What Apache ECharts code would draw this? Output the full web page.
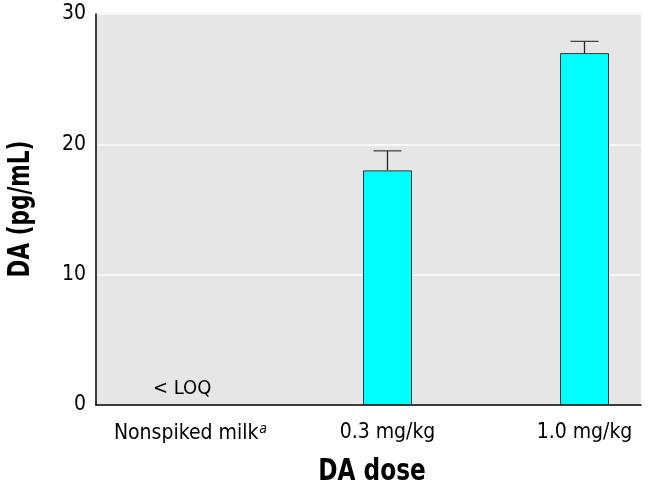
<!DOCTYPE html>
<html>
<head>
<meta charset="utf-8">
<script src="https://cdn.jsdelivr.net/npm/echarts@6/dist/echarts.min.js"></script>
<style>html,body{margin:0;padding:0;background:#fff}#c{width:649px;height:491px}</style>
</head>
<body>
<div id="c"></div>
<script>
var categories = ['Nonspiked milk', '0.3 mg/kg', '1.0 mg/kg'];
var means = [null, 18, 27];
var errHigh = [null, 19.5, 27.9];
var yTicks = [0, 10, 20, 30];
var loqText = '< LOQ';

var FONT = '"Liberation Sans Narrow", "DejaVu Sans Condensed", "Arial Narrow", sans-serif';
var chart = echarts.init(document.getElementById('c'), null, {renderer: 'canvas'});

var errData = categories.map(function (c, i) {
  return means[i] == null ? null : [i, means[i], errHigh[i]];
}).filter(function (d) { return d; });

chart.setOption({
  backgroundColor: '#ffffff',
  animation: false,
  grid: [
    {left: 96, right: 8, top: 14, bottom: 86, show: true, backgroundColor: '#e6e6e6', borderWidth: 0, containLabel: false},
    {left: 190.5, right: 64.5, top: 14, bottom: 86, show: false, containLabel: false}
  ],
  xAxis: [
    {
      type: 'category', gridIndex: 0, data: categories,
      axisLine: {lineStyle: {color: '#000', width: 1.5}},
      axisTick: {show: false},
      axisLabel: {show: false}
    },
    {
      type: 'category', gridIndex: 1, data: categories, boundaryGap: false,
      axisLine: {show: false},
      axisTick: {show: false},
      splitLine: {show: false},
      axisLabel: {
        margin: 17,
        formatter: function (v, i) { return i === 0 ? '{n|' + v + '}{s|a}' : '{n|' + v + '}'; },
        rich: {
          n: {fontFamily: FONT, fontSize: 21, color: '#000'},
          s: {fontFamily: FONT, fontSize: 14, fontStyle: 'italic', color: '#000', verticalAlign: 'top', padding: [0, 0, 10, 1]}
        }
      }
    }
  ],
  yAxis: [
    {
      type: 'value', gridIndex: 0, min: yTicks[0], max: yTicks[yTicks.length - 1], interval: 10,
      axisLine: {show: true, lineStyle: {color: '#000', width: 1.5}},
      axisTick: {show: false},
      axisLabel: {fontFamily: FONT, fontSize: 21, color: '#000', margin: 10},
      splitLine: {show: true, lineStyle: {color: '#f7f7f7', width: 2}}
    },
    {
      type: 'value', gridIndex: 1, min: yTicks[0], max: yTicks[yTicks.length - 1], show: false, splitLine: {show: false}
    }
  ],
  series: [
    {
      type: 'custom', xAxisIndex: 1, yAxisIndex: 1, z: 1,
      data: errData,
      renderItem: function (params, api) {
        var x = api.value(0);
        var top = api.coord([x, api.value(2)]);
        var base = api.coord([x, api.value(1)]);
        var half = 14;
        return {
          type: 'group',
          children: [
            {type: 'line', shape: {x1: top[0], y1: top[1], x2: base[0], y2: base[1]}, style: {stroke: '#222', lineWidth: 1.3}},
            {type: 'line', shape: {x1: top[0] - half, y1: top[1], x2: top[0] + half, y2: top[1]}, style: {stroke: '#444', lineWidth: 1.3}}
          ]
        };
      }
    },
    {
      type: 'bar', xAxisIndex: 1, yAxisIndex: 1, z: 2,
      data: means, barWidth: 49,
      itemStyle: {color: '#00ffff', borderColor: '#333', borderWidth: 1}
    }
  ],
  graphic: [
    {type: 'text', left: 153, top: 379, style: {text: loqText, fontFamily: FONT, fontSize: 20, fill: '#000'}},
    {type: 'text', x: 372, y: 457, scaleX: 0.86, style: {text: 'DA dose', fontFamily: FONT, fontSize: 30, fontWeight: 'bold', fill: '#000', align: 'center', verticalAlign: 'top'}},
    {type: 'text', rotation: Math.PI / 2, x: 6, y: 209, scaleX: 0.8, style: {text: 'DA (pg/mL)', fontFamily: FONT, fontSize: 30, fontWeight: 'bold', fill: '#000', align: 'center', verticalAlign: 'top'}}
  ]
});
</script>
</body>
</html>
